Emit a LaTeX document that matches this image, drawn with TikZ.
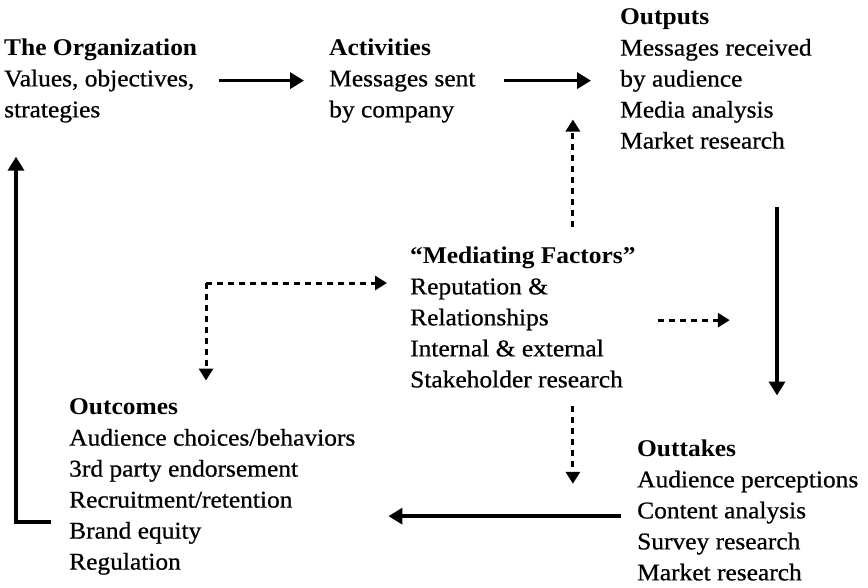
\documentclass[tikz,border=0pt]{standalone}
\usepackage{fontspec}
\setmainfont{Liberation Serif}[FakeStretch=1.06, UprightFeatures={FakeBold=0.7}]
\usetikzlibrary{arrows.meta,calc}
\tikzset{
  blk/.style={anchor=north west, inner sep=0pt, align=left, font=\fontsize{24}{31}\selectfont},
  arr/.style={line width=3.6pt, -{Triangle[length=14pt,width=16pt]}},
  darr/.style={line width=3pt, dash pattern=on 6pt off 5pt, -{Triangle[length=12pt,width=14pt]}},
}
\begin{document}
\begin{tikzpicture}[x=1pt,y=-1pt]
\useasboundingbox (0,0) rectangle (868,587);
\node[blk] (org)  at (4,38.5)   {\textbf{The Organization}\\Values, objectives,\\strategies};
\node[blk] (act)  at (329,38.5) {\textbf{Activities}\\Messages sent\\by company};
\node[blk] (outp) at (620,8.5)  {\textbf{Outputs}\\Messages received\\by audience\\Media analysis\\Market research};
\node[blk] (med)  at (410,246.5){\textbf{“Mediating Factors”}\\Reputation \&\\Relationships\\Internal \& external\\Stakeholder research};
\node[blk] (outc) at (69,398.5) {\textbf{Outcomes}\\Audience choices/behaviors\\3rd party endorsement\\Recruitment/retention\\Brand equity\\Regulation};
\node[blk] (outt) at (637,439.5){\textbf{Outtakes}\\Audience perceptions\\Content analysis\\Survey research\\Market research};
% solid flow
\draw[arr] ($(org.east)+(22,0)$) -- ($(act.west |- org.east)+(-25,0)$);
\draw[arr] ($(act.east)+(28,0)$) -- ($(outp.west |- act.east)+(-29,0)$);
\draw[arr] ($(outp.south west)+(157,58)$) coordinate (vstart) -- (vstart |- {$(outt.north)+(0,-44)$});
\draw[arr] ($(outt.west)+(-16,6)$) coordinate (hstart) -- (hstart -| {$(outc.east)+(33,0)$});
\draw[line width=3.6pt, -{Triangle[length=14pt,width=16pt]}] ($(outc.west)+(-18,35)$) -- ++(-35,0) -- ++(0,-365);
% mediating dotted
\draw[darr] ($(med.north)+(50,-20)$) -- ++(0,-107);
\draw[darr] ($(med.east)+(22,3)$) -- ++(72,0);
\draw[darr] ($(med.south)+(50,18)$) -- ++(0,78);
\coordinate (elbow) at ($(outc.north west)+(137,-115.5)$);
\draw[darr] (elbow) -- ($(elbow -| med.west)+(-23,0)$);
\draw[darr] (elbow) -- ($(outc.north west)+(137,-18)$);
\end{tikzpicture}
\end{document}
